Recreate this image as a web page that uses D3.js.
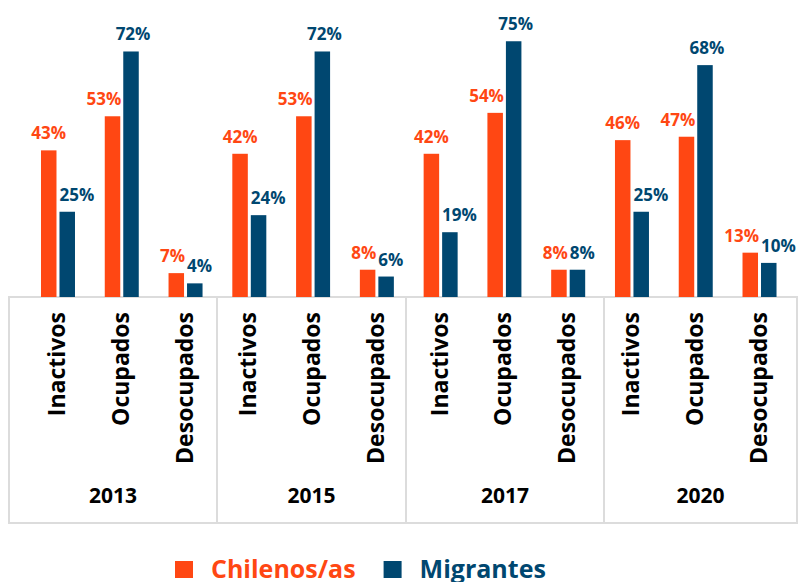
<!DOCTYPE html>
<html>
<head>
<meta charset="utf-8">
<script src="https://cdn.jsdelivr.net/npm/d3@7"></script>
<style>
  body { margin: 0; background: #fff; }
  svg { display: block; font-family: 'Open Sans', sans-serif; font-weight: bold; }
</style>
</head>
<body>
<svg id="chart" width="799" height="582"></svg>
<script>
// data
const years = ['2013', '2015', '2017', '2020'];
const estados = ['Inactivos', 'Ocupados', 'Desocupados'];
const chilenos = [43, 53, 7, 42, 53, 8, 42, 54, 8, 46, 47, 13];
const migrantes = [25, 72, 4, 24, 72, 6, 19, 75, 8, 25, 68, 10];
const seriesNames = ['Chilenos/as', 'Migrantes'];

const colors = { 'Chilenos/as': '#ff4713', 'Migrantes': '#004770' };

const baseY = 297;

// table edges for the year groups
const tableEdges = [9, 217, 406, 604, 797];
const tableBottom = 523;

// label anchoring per estado (avoid overlapping labels)
const labelAlign = {
  'Chilenos/as': { Inactivos: 'middle', Ocupados: 'end', Desocupados: 'end' },
  'Migrantes': { Inactivos: 'start', Ocupados: 'middle', Desocupados: 'start' }
};

const rows = [];
years.forEach((y, yi) => {
  estados.forEach((e, ei) => {
    const i = yi * estados.length + ei;
    rows.push({ key: y + '_' + e, year: y, estado: e, 'Chilenos/as': chilenos[i], 'Migrantes': migrantes[i] });
  });
});

const svg = d3.select('#chart');

const x0 = d3.scaleBand()
  .domain(rows.map(d => d.key))
  .range([26.1, 791.4]);

const x1 = d3.scaleBand()
  .domain(seriesNames)
  .range([-17, 17])
  .paddingInner(0.162);

const y = d3.scaleLinear()
  .domain([0, 75])
  .range([baseY, 41.25]);

// table
const table = svg.append('g').attr('class', 'table');

table.append('rect')
  .attr('x', tableEdges[0])
  .attr('y', baseY)
  .attr('width', tableEdges[tableEdges.length - 1] - tableEdges[0])
  .attr('height', tableBottom - baseY)
  .attr('fill', 'none')
  .attr('stroke', '#dcdcdc')
  .attr('stroke-width', 2);

table.selectAll('line.sep')
  .data(tableEdges.slice(1, -1))
  .enter()
  .append('line')
  .attr('class', 'sep')
  .attr('x1', d => d)
  .attr('x2', d => d)
  .attr('y1', baseY)
  .attr('y2', tableBottom)
  .attr('stroke', '#dcdcdc')
  .attr('stroke-width', 2);

table.selectAll('text.year')
  .data(years)
  .enter()
  .append('text')
  .attr('class', 'year')
  .attr('x', (d, i) => (tableEdges[i] + tableEdges[i + 1]) / 2)
  .attr('y', 503)
  .attr('text-anchor', 'middle')
  .style('font-size', '21px')
  .attr('fill', '#000')
  .text(d => d);

table.selectAll('text.estado')
  .data(rows)
  .enter()
  .append('text')
  .attr('class', 'estado')
  .attr('transform', d => 'translate(' + (x0(d.key) + x0.bandwidth() / 2 - 1) + ',312) rotate(-90)')
  .attr('text-anchor', 'end')
  .attr('dy', '0.35em')
  .style('font-size', '23px')
  .attr('fill', '#000')
  .text(d => d.estado);

// bars
const groups = svg.append('g').attr('class', 'data-group')
  .selectAll('g.cat')
  .data(rows)
  .enter()
  .append('g')
  .attr('class', 'cat')
  .attr('transform', d => 'translate(' + (x0(d.key) + x0.bandwidth() / 2) + ',0)');

groups.selectAll('rect')
  .data(d => seriesNames.map(s => ({ s, v: d[s] })))
  .enter()
  .append('rect')
  .attr('x', d => x1(d.s))
  .attr('width', x1.bandwidth())
  .attr('y', d => y(d.v))
  .attr('height', d => baseY - y(d.v))
  .attr('fill', d => colors[d.s]);

groups.selectAll('text.val')
  .data(d => seriesNames.map(s => ({ s, v: d[s], estado: d.estado })))
  .enter()
  .append('text')
  .attr('class', 'val')
  .attr('x', d => {
    const a = labelAlign[d.s][d.estado];
    if (a === 'start') return x1(d.s);
    if (a === 'end') return x1(d.s) + x1.bandwidth() + 1;
    return x1(d.s) + x1.bandwidth() / 2 + (d.s === 'Migrantes' ? 2 : 0);
  })
  .attr('y', d => y(d.v) - 11)
  .attr('text-anchor', d => labelAlign[d.s][d.estado])
  .style('font-size', '17px')
  .attr('fill', d => colors[d.s])
  .text(d => d.v + '%');

// legend
const legend = svg.append('g').attr('class', 'legend');
let lx = 175;
seriesNames.forEach(s => {
  legend.append('rect')
    .attr('x', lx)
    .attr('y', 561)
    .attr('width', 18)
    .attr('height', 17)
    .attr('fill', colors[s]);
  const t = legend.append('text')
    .attr('x', lx + 36)
    .attr('y', 578)
    .style('font-size', '25px')
    .attr('fill', colors[s])
    .text(s);
  lx += 36 + t.node().getComputedTextLength() + 28;
});
</script>
</body>
</html>
